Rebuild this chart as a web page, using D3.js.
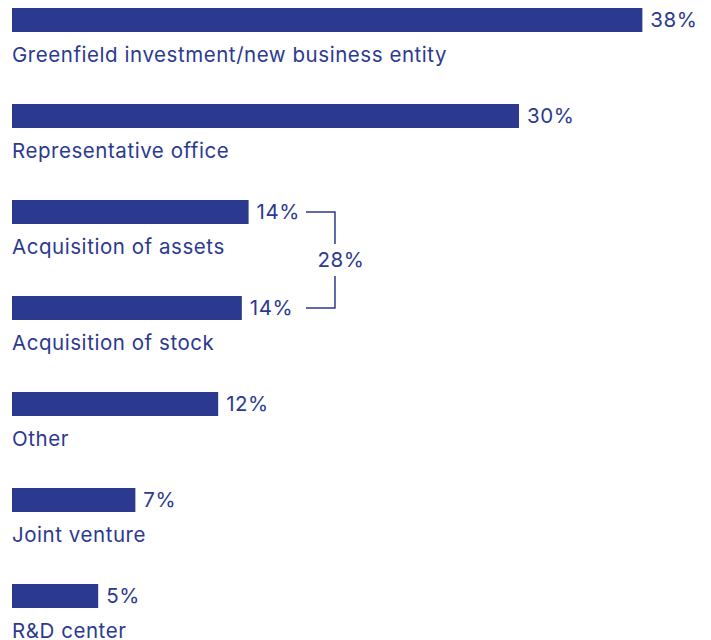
<!DOCTYPE html>
<html lang="en">
<head>
<meta charset="UTF-8">
<title>Market entry modes</title>
<style>
    body { margin: 0; background: #fff; }
    text { font-family: Inter, "Noto Sans", sans-serif; fill: #2b3a8f; letter-spacing: 0.55px; }
    .bar { fill: #2b3a8f; }
    .cat { font-size: 20.5px; }
    .val { font-size: 20.5px; }
    .bracket { fill: none; stroke: #2b3a8f; stroke-width: 1.5px; }
</style>
</head>
<body>
<script src="https://d3js.org/d3.v7.min.js"></script>
<script>
    var categories = ["Greenfield investment/new business entity", "Representative office",
        "Acquisition of assets", "Acquisition of stock", "Other", "Joint venture", "R&D center"];
    var values = [37.3, 30, 14, 13.6, 12.2, 7.3, 5.1];
    var valueLabels = ["38%", "30%", "14%", "14%", "12%", "7%", "5%"];
    // the two acquisition rows are bracketed together
    var groupRows = ["Acquisition of assets", "Acquisition of stock"];
    var groupLabel = "28%";

    var width = 711, height = 640;

    var svg = d3.select("body").append("svg")
        .attr("width", width)
        .attr("height", height);

    var x = d3.scaleLinear().domain([0, 40]).range([12, 688]);
    var y = d3.scaleBand().domain(categories).range([8, 608]).paddingInner(0.75).paddingOuter(0);

    var data = categories.map(function(c, i) {
        return { name: c, value: values[i], label: valueLabels[i] };
    });

    svg.selectAll(".bar")
        .data(data)
        .enter().append("rect")
        .attr("class", "bar")
        .attr("x", x(0))
        .attr("y", function(d) { return y(d.name); })
        .attr("width", function(d) { return x(d.value) - x(0); })
        .attr("height", y.bandwidth());

    var vals = svg.selectAll(".val")
        .data(data)
        .enter().append("text")
        .attr("class", "val")
        .attr("x", function(d) { return x(d.value) + 8; })
        .attr("y", function(d) { return y(d.name) + y.bandwidth() / 2; })
        .attr("dy", "0.36em")
        .text(function(d) { return d.label; });

    svg.selectAll(".cat")
        .data(data)
        .enter().append("text")
        .attr("class", "cat")
        .attr("x", x(0))
        .attr("y", function(d) { return y(d.name) + y.bandwidth() + 30; })
        .text(function(d) { return d.name; });

    // bracket joining the two acquisition rows
    var right = 0;
    vals.filter(function(d) { return groupRows.indexOf(d.name) >= 0; })
        .each(function() {
            var b = this.getBBox();
            right = Math.max(right, b.x + b.width);
        });
    var bx0 = right + 6, bx1 = bx0 + 29;
    var yTop = y(groupRows[0]) + y.bandwidth() / 2,
        yBot = y(groupRows[1]) + y.bandwidth() / 2,
        yMid = (yTop + yBot) / 2;

    svg.append("path")
        .attr("class", "bracket")
        .attr("d", "M" + bx0 + "," + yTop + "H" + bx1 + "V" + (yMid - 16));
    svg.append("path")
        .attr("class", "bracket")
        .attr("d", "M" + bx0 + "," + yBot + "H" + bx1 + "V" + (yMid + 16));
    svg.append("text")
        .attr("class", "val")
        .attr("x", bx1 + 6)
        .attr("y", yMid)
        .attr("dy", "0.36em")
        .attr("text-anchor", "middle")
        .text(groupLabel);
</script>
</body>
</html>
